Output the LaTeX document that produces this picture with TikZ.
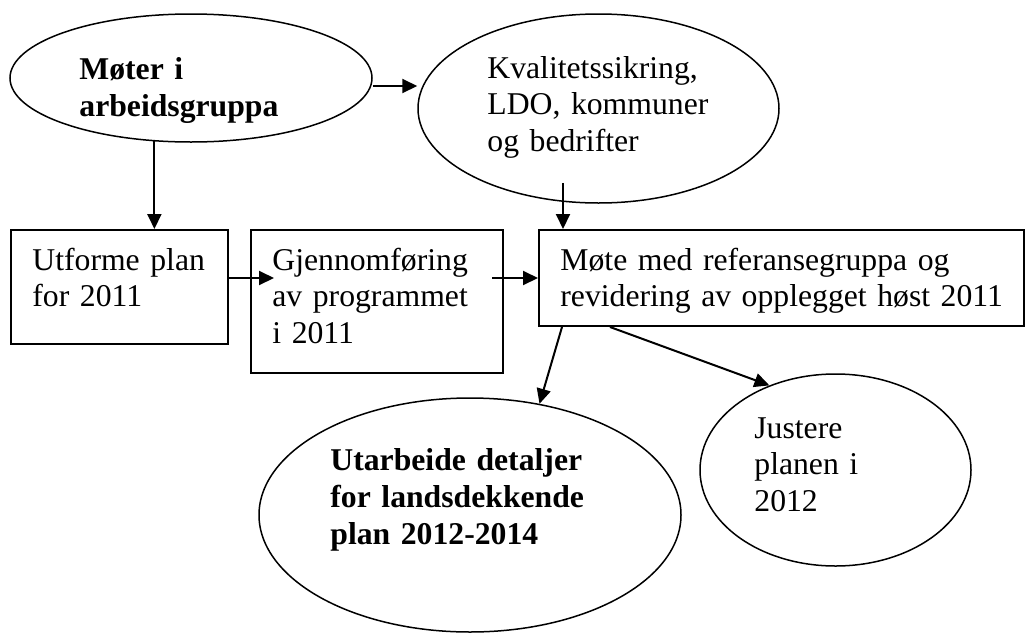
\documentclass[tikz,border=0pt]{standalone}
\usepackage{fontspec}
\setmainfont{Liberation Serif}
\usetikzlibrary{shapes.geometric, arrows.meta, calc}
\tikzset{
  oval/.style={ellipse, draw, line width=0.75pt, inner sep=0pt},
  stepbox/.style={rectangle, draw, line width=1pt, inner sep=0pt},
  blurb/.style={anchor=base west, inner sep=0pt, text width=230pt, align=left,
    font=\fontsize{15.85}{18.3}\selectfont},
  blurbbold/.style={blurb, font=\fontsize{15.85}{18.5}\selectfont\bfseries},
  arrow/.style={-{Triangle[length=7.5pt,width=7pt]}, line width=1pt},
}

\begin{document}
\begin{tikzpicture}[x=0.5pt, y=-0.5pt]
  \useasboundingbox (0,0) rectangle (1028,632);
  % shapes
  \node[oval, minimum width=181pt, minimum height=64pt] (e1) at (191,78) {};
  \node[oval, minimum width=180.5pt, minimum height=94.5pt] (e2) at (598.5,108.5) {};
  \node[stepbox, minimum width=108.5pt, minimum height=57pt] (b1) at (119.5,287) {};
  \node[stepbox, minimum width=126pt, minimum height=71.5pt] (b2) at (377,301.5) {};
  \node[stepbox, minimum width=242.5pt, minimum height=48pt] (b3) at (781.5,278) {};
  \node[oval, minimum width=211pt, minimum height=117pt] (e3) at (470,515) {};
  \node[oval, minimum width=135.5pt, minimum height=96pt] (e4) at (835.5,470) {};
  % texts
  \node[blurbbold] (t1) at (79,79) {Møter i\\arbeidsgruppa};
  \node[blurb] (t2) at (487,78) {Kvalitetssikring,\\LDO, kommuner\\og bedrifter};
  \node[blurb] (t3) at (32,270) {Utforme plan\\for 2011};
  \node[blurb] (t4) at (272,270) {Gjennomføring\\av programmet\\i 2011};
  \node[blurb] (t5) at (560,270) {Møte med referansegruppa og\\revidering av opplegget høst 2011};
  \node[blurbbold] (t6) at (330,470) {Utarbeide detaljer\\for landsdekkende\\plan 2012-2014};
  \node[blurb] (t7) at (754,438) {Justere\\planen i\\2012};
  % connectors
  \draw[arrow] ($(e1.east)+(0,-4pt)$) -- ($(e1.east -| e2.west)+(0,-4pt)$);
  \draw[arrow] (e1.-120) -- (e1.-120 |- b1.north);
  \coordinate (e2foot) at ($(e2.south)+(-17.75pt,10.5pt)$);
  \draw[arrow] (e2foot) -- (e2foot |- b3.north);
  \draw[arrow] ($(b1.east)+(0,4.5pt)$) -- ($(b1.east -| b2.west)+(12pt,4.5pt)$);
  \draw[arrow] ($(b3.west -| b2.east)+(-6pt,0)$) -- (b3.west);
  \draw[arrow] ($(b3.south west)+(12pt,0)$) -- (e3.58);
  \draw[arrow] ($(b3.south west)+(36pt,0)$) -- (e4.128);
\end{tikzpicture}
\end{document}
